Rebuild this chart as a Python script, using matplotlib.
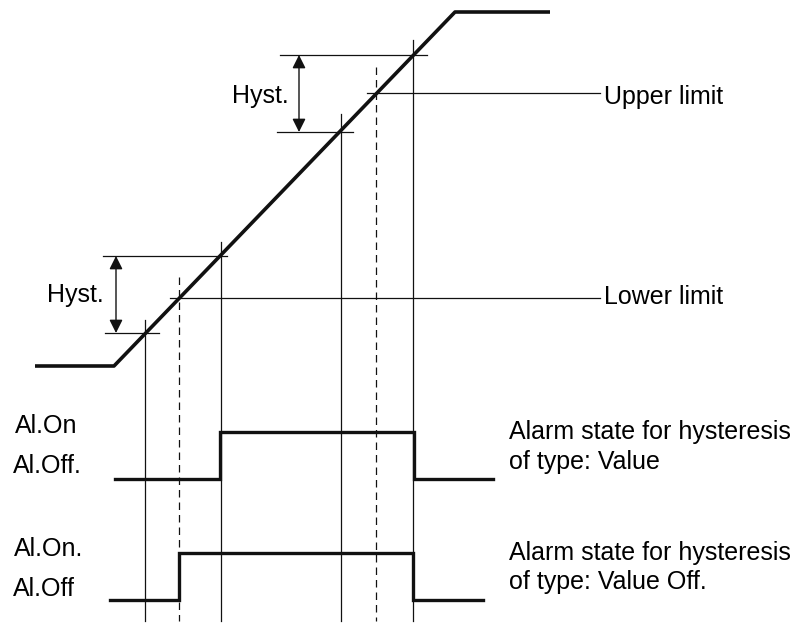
import matplotlib.pyplot as plt

# process value ramp (pixel-like diagram coordinates, y grows downward)
ramp_x = [35, 114, 455, 550]
ramp_y = [366, 366, 12, 12]

# switching points on the ramp
solid_x = [145, 221, 341, 413]
solid_top = [320, 242, 114, 40]
dashed_x = [179, 376]
dashed_top = [277, 67]
bottom_y = 621

# horizontal reference lines: (y, x_start, x_end)
ref_lines = [
    (333, 105, 159),   # lower limit - hyst
    (256, 103, 227),   # lower limit + hyst
    (298, 170, 600),   # lower limit
    (132, 277, 353),   # upper limit - hyst
    (55, 280, 427),    # upper limit + hyst
    (93, 367, 600),    # upper limit
]

# hysteresis arrows: (x, y_top, y_bottom)
hyst_arrows = [(116, 256, 333), (299, 55, 132)]

# alarm state signals
sig1_x = [115, 220, 220, 414, 414, 493]
sig1_y = [479, 479, 432, 432, 479, 479]
sig2_x = [110, 179, 179, 413, 413, 483]
sig2_y = [600, 600, 553, 553, 600, 600]

plt.rcParams['font.family'] = ['Liberation Sans', 'DejaVu Sans']

fig = plt.figure(figsize=(8, 6.24), dpi=100)
ax = fig.add_axes([0, 0, 1, 1])
ax.set_xlim(0, 800)
ax.set_ylim(624, 0)
ax.axis('off')

ax.plot(ramp_x, ramp_y, color='#111111', lw=2.6, solid_capstyle='butt')

for x, t in zip(solid_x, solid_top):
    ax.plot([x, x], [t, bottom_y], color='#111111', lw=0.9)
for x, t in zip(dashed_x, dashed_top):
    ax.plot([x, x], [t, bottom_y], color='#111111', lw=0.9, ls=(0, (6, 4)))

for y, x0, x1 in ref_lines:
    ax.plot([x0, x1], [y, y], color='#111111', lw=0.9)

for x, y0, y1 in hyst_arrows:
    ax.annotate('', xy=(x, y0), xytext=(x, y1),
                arrowprops=dict(arrowstyle='<|-|>', color='#111111', lw=1.0,
                                mutation_scale=20, shrinkA=0, shrinkB=0))

ax.plot(sig1_x, sig1_y, color='#111111', lw=2.4, solid_joinstyle='miter')
ax.plot(sig2_x, sig2_y, color='#111111', lw=2.4, solid_joinstyle='miter')

fs = 18
ax.text(232, 96, 'Hyst.', fontsize=fs, va='center', ha='left')
ax.text(47, 295, 'Hyst.', fontsize=fs, va='center', ha='left')
ax.text(604, 97, 'Upper limit', fontsize=fs, va='center', ha='left')
ax.text(604, 297, 'Lower limit', fontsize=fs, va='center', ha='left')

ax.text(15, 426, 'Al.On', fontsize=fs, va='center', ha='left')
ax.text(13, 466, 'Al.Off.', fontsize=fs, va='center', ha='left')
ax.text(14, 549, 'Al.On.', fontsize=fs, va='center', ha='left')
ax.text(13, 589, 'Al.Off', fontsize=fs, va='center', ha='left')

ax.text(509, 432, 'Alarm state for hysteresis', fontsize=fs, va='center', ha='left')
ax.text(509, 462, 'of type: Value', fontsize=fs, va='center', ha='left')
ax.text(509, 553, 'Alarm state for hysteresis', fontsize=fs, va='center', ha='left')
ax.text(509, 582, 'of type: Value Off.', fontsize=fs, va='center', ha='left')

fig.savefig('out.png', dpi=100)
